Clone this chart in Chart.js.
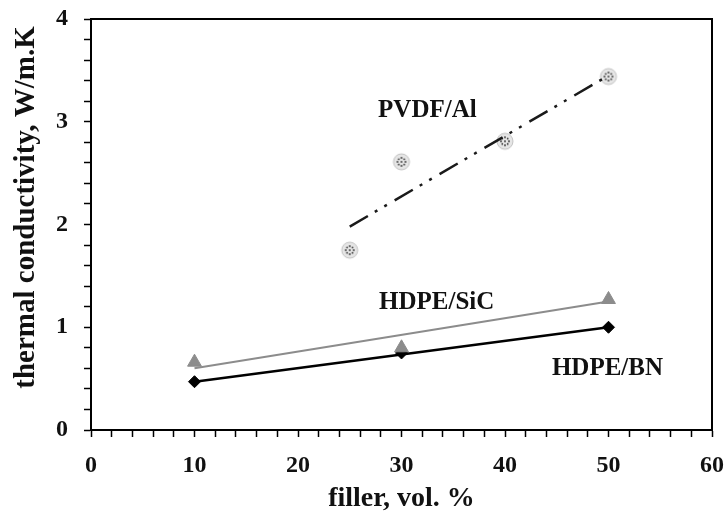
<!DOCTYPE html>
<html>
<head>
<meta charset="utf-8">
<script src="https://cdn.jsdelivr.net/npm/chart.js@4"></script>
<style>
  html, body { margin: 0; padding: 0; background: #fff; }
  #wrap { width: 726px; height: 516px; }
</style>
</head>
<body>
<div id="wrap"><canvas id="canvas-myChart" width="726" height="516"></canvas></div>
<script>
// measured points
const pvdfX = [25, 30, 40, 50];
const pvdfY = [1.75, 2.61, 2.81, 3.44];
const sicX = [10, 30, 50];
const sicY = [0.66, 0.80, 1.27];
const bnX = [10, 30, 50];
const bnY = [0.47, 0.75, 1.00];

// fitted lines (end points)
const pvdfFitX = [25, 50];
const pvdfFitY = [1.98, 3.45];
const sicFitX = [10, 50];
const sicFitY = [0.60, 1.25];
const bnFitX = [10, 50];
const bnFitY = [0.47, 1.00];

// in-plot labels
const noteText = ["PVDF/Al", "HDPE/SiC", "HDPE/BN"];
const noteX = [32.5, 33.4, 49.9];
const noteY = [3.11, 1.24, 0.60];

const xTicks = [0, 10, 20, 30, 40, 50, 60];
const yTicks = [0, 1, 2, 3, 4];

const serif = "'Liberation Serif', 'Times New Roman', serif";

function pts(xs, ys) {
  return xs.map((x, i) => ({ x: x, y: ys[i] }));
}

function dotCircle() {
  const c = document.createElement("canvas");
  c.width = 20;
  c.height = 20;
  const g = c.getContext("2d");
  g.fillStyle = "#e6e6e6";
  g.strokeStyle = "#c2c2c2";
  g.lineWidth = 1;
  g.beginPath();
  g.arc(10, 10, 8, 0, Math.PI * 2);
  g.fill();
  g.stroke();
  g.fillStyle = "#333";
  [[10, 6], [10, 14], [6, 10], [14, 10], [10, 10], [7.3, 7.3], [12.7, 7.3], [7.3, 12.7], [12.7, 12.7]].forEach((p) => {
    g.beginPath();
    g.arc(p[0], p[1], 0.9, 0, Math.PI * 2);
    g.fill();
  });
  return c;
}

const framePlugin = {
  id: "frame",
  afterDraw(chart) {
    const { ctx, chartArea: a, scales } = chart;
    ctx.save();
    ctx.strokeStyle = "#000";
    ctx.lineWidth = 2;
    ctx.strokeRect(a.left, a.top, a.right - a.left, a.bottom - a.top);
    ctx.fillStyle = "#111";
    ctx.font = "bold 25px " + serif;
    ctx.textAlign = "center";
    ctx.textBaseline = "middle";
    noteText.forEach((t, i) => {
      ctx.fillText(t, scales.x.getPixelForValue(noteX[i]), scales.y.getPixelForValue(noteY[i]));
    });
    ctx.restore();
  },
};

const ctx = document.getElementById("canvas-myChart").getContext("2d");

new Chart(ctx, {
  type: "scatter",
  data: {
    datasets: [
      {
        label: "PVDF/Al fit",
        type: "line",
        data: pts(pvdfFitX, pvdfFitY),
        borderColor: "#1a1a1a",
        borderWidth: 2.5,
        borderDash: [21, 8, 3, 8, 3, 9],
        pointRadius: 0,
        fill: false,
      },
      {
        label: "HDPE/SiC fit",
        type: "line",
        data: pts(sicFitX, sicFitY),
        borderColor: "#8c8c8c",
        borderWidth: 2,
        pointRadius: 0,
        fill: false,
      },
      {
        label: "HDPE/BN fit",
        type: "line",
        data: pts(bnFitX, bnFitY),
        borderColor: "#000",
        borderWidth: 2.5,
        pointRadius: 0,
        fill: false,
      },
      {
        label: "PVDF/Al",
        data: pts(pvdfX, pvdfY),
        pointStyle: dotCircle(),
        pointRadius: 9,
      },
      {
        label: "HDPE/SiC",
        data: pts(sicX, sicY),
        pointStyle: "triangle",
        pointRadius: 8,
        backgroundColor: "#8c8c8c",
        borderColor: "#8c8c8c",
        borderWidth: 1,
      },
      {
        label: "HDPE/BN",
        data: pts(bnX, bnY),
        pointStyle: "rectRot",
        pointRadius: 6,
        backgroundColor: "#000",
        borderColor: "#000",
        borderWidth: 1,
      },
    ],
  },
  options: {
    responsive: false,
    animation: false,
    layout: { padding: { left: 0, top: 19, right: 14, bottom: 0 } },
    plugins: {
      legend: { display: false },
      tooltip: { enabled: false },
    },
    scales: {
      x: {
        type: "linear",
        min: 0,
        max: 60,
        afterFit: (s) => {
          s.height = 86;
          s.paddingLeft = 0;
          s.paddingRight = 0;
        },
        border: { display: true, color: "#000", width: 2 },
        grid: { drawOnChartArea: false, drawTicks: true, tickLength: 7, tickColor: "#000", tickWidth: 1.5 },
        ticks: {
          stepSize: 2,
          padding: 14,
          color: "#111",
          maxRotation: 0,
          autoSkip: false,
          font: { family: serif, size: 24, weight: "bold" },
          callback: (v) => (xTicks.includes(v) ? String(v) : ""),
        },
        title: {
          display: true,
          text: "filler, vol. %",
          color: "#111",
          font: { family: serif, size: 28, weight: "bold", lineHeight: 1.2 },
          padding: { top: 0, bottom: 0 },
        },
      },
      y: {
        type: "linear",
        min: 0,
        max: 4,
        afterFit: (s) => {
          s.width = 91;
          s.paddingTop = 0;
          s.paddingBottom = 0;
        },
        border: { display: true, color: "#000", width: 2 },
        grid: { drawOnChartArea: false, drawTicks: true, tickLength: 7, tickColor: "#000", tickWidth: 1.5 },
        ticks: {
          stepSize: 0.2,
          padding: 16,
          color: "#111",
          autoSkip: false,
          font: { family: serif, size: 24, weight: "bold" },
          callback: (v) => {
            const r = Math.round(v);
            return Math.abs(v - r) < 1e-6 && yTicks.includes(r) ? String(r) : "";
          },
        },
        title: {
          display: true,
          text: "thermal conductivity, W/m.K ",
          align: "end",
          color: "#111",
          font: { family: serif, size: 29, weight: "bold", lineHeight: 1.2 },
          padding: { top: 9, bottom: 0 },
        },
      },
    },
  },
  plugins: [framePlugin],
});
</script>
</body>
</html>
